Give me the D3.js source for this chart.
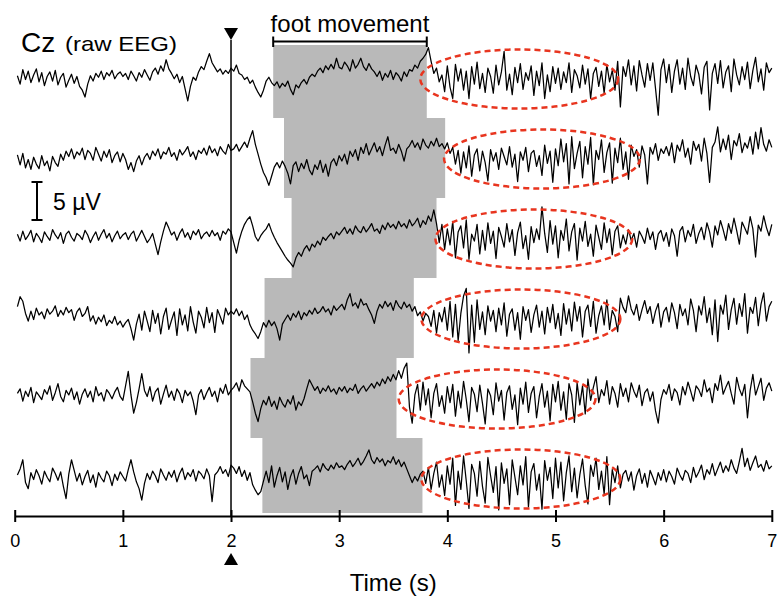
<!DOCTYPE html>
<html>
<head>
<meta charset="utf-8">
<script src="https://cdn.jsdelivr.net/npm/d3@7"></script>
<style>
  body { margin: 0; background: #fff; }
  svg { display: block; font-family: "Liberation Sans", Arial, Helvetica, sans-serif; }
</style>
</head>
<body>
<div id="vis"></div>
<script>
// raw EEG at Cz, six single trials (uV)
// one sample every 25 ms, first sample at 25 ms
var trace1 = [
  0.3,-0.8,1.1,-0.2,0.9,-0.6,0.4,1.2,-0.5,0.7, -1.0,0.2,0.8,-0.4,1.0,-0.9,0.1,0.6,-1.2,-0.3, 0.5,-0.7,0.2,-1.1,-1.6,-2.5,-0.8,0.3,-0.4,0.6, 0.1,0.9,-0.2,0.7,0.3,1.0,-0.1,0.5,0.8,0.2,
  0.6,-0.2,0.9,0.3,-0.4,0.7,0.1,1.1,0.4,-0.3, 0.8,1.3,0.5,1.6,0.9,2.4,1.2,0.6,-0.1,0.5, -0.6,0.2,-1.4,-3.0,-1.1,0.1,-0.3,0.8,1.5,1.1, 2.2,3.2,2.0,1.4,0.8,1.2,0.5,1.0,0.6,1.3,
  0.9,1.7,0.6,0.4,-0.2,0.1,-0.7,-0.3,-1.2,-1.9, -2.5,-1.6,-0.4,0.1,-0.6,-1.0,-0.5,-1.3,-0.7,-1.1, -0.4,-1.5,-2.2,-0.9,-1.3,-0.6,-0.2,-0.8,0.1,0.5, 0.2,0.9,1.3,0.7,1.6,1.1,1.8,1.2,2.6,1.4,
  1.2,2.1,1.6,0.9,2.4,1.3,1.8,2.6,1.5,1.0, 1.9,1.2,0.8,0.2,0.9,-0.3,0.6,0.1,1.0,-0.2, 0.7,0.3,-0.4,0.8,0.2,1.1,0.9,1.7,1.3,2.2, 2.6,3.1,4.0,2.2,0.6,1.3,-0.5,0.4,-1.8,1.6,
  -1.2,-2.7,1.8,-0.4,1.2,-1.6,0.9,-2.7,1.5,-0.8, 2.1,-1.4,0.6,-1.9,1.3,0.2,-2.0,1.7,-0.9,0.8, 3.5,-1.6,0.5,-2.2,1.4,-0.6,1.9,-1.5,0.7,-0.3, 1.6,-2.3,0.9,-1.0,2.0,-2.7,0.4,-1.8,1.5,-0.7,
  1.3,-1.5,0.8,-0.6,2.0,-1.9,1.1,0.3,-1.3,1.7, -0.8,1.2,-2.7,0.6,1.4,-1.1,0.9,-2.0,1.8,-0.5, 1.0,-1.6,2.2,-3.8,1.5,0.2,2.4,-0.9,1.6,-1.7, 2.3,0.4,-1.2,1.9,-0.3,2.0,-1.4,-4.9,1.1,2.5,
  -0.6,1.8,-1.9,0.9,2.4,-0.8,1.3,-1.5,2.6,0.2, -1.0,1.7,0.5,-2.1,1.4,2.2,-4.2,0.6,1.9,-0.7, 2.3,-1.3,0.8,1.6,-1.8,2.5,0.4,-0.9,1.5,-0.2, 2.1,-1.4,1.0,2.7,-0.5,1.2,-1.6,2.0,0.7,1.3
];
var trace2 = [
  0.4,-0.9,0.6,-1.3,-0.2,-1.5,0.1,-0.8,-1.4,0.3, -1.0,-0.4,-1.7,0.2,-0.6,-1.1,0.5,-0.3,0.9,0.2, 1.2,-0.1,0.8,0.4,1.3,-0.2,1.0,0.6,-0.3,1.4, 0.5,-0.4,0.9,0.1,1.1,-0.6,0.3,0.8,-0.5,0.6,
  -0.2,-1.5,-0.6,-1.8,-0.4,0.3,-0.9,0.1,0.6,-0.2, 0.9,0.3,1.2,-0.1,0.8,0.5,1.4,0.2,0.7,-0.3, 1.1,0.4,0.9,1.5,0.2,0.8,-0.2,1.0,0.6,1.3, 0.4,1.6,0.7,1.2,0.3,1.5,0.9,0.5,1.8,1.0,
  1.2,1.8,0.9,1.5,2.1,1.4,2.6,3.6,1.8,0.5, -0.8,-1.9,-2.6,-3.6,-2.4,-1.2,-0.6,-1.3,-0.4,-1.1, -2.0,-3.4,-1.0,-0.5,-1.8,-0.7,-1.4,-0.2,-1.6,-2.2, -0.9,-1.5,-0.3,-1.9,-0.8,-2.4,-0.6,-0.1,-1.0,0.3,
  -0.4,0.5,-0.8,0.9,0.2,1.1,-0.3,1.4,0.6,1.9, 0.4,1.2,2.0,0.8,1.5,0.3,1.7,2.8,1.0,1.3, 0.6,1.8,0.9,-0.4,1.2,1.6,2.3,1.4,2.0,1.1, 2.5,1.7,1.3,2.2,1.6,2.6,1.5,1.9,1.2,2.0,
  0.6,1.4,-0.8,1.0,-2.0,0.8,-1.3,1.6,-2.4,0.4, 1.2,-1.7,0.9,-0.6,-3.0,1.1,-0.4,0.7,-1.5,1.3, 0.2,-0.9,1.5,-1.2,0.5,-3.1,0.8,-0.3,1.4,-1.8, 0.6,1.0,-1.1,0.3,-2.3,1.7,-0.7,0.9,-3.2,1.2,
  -1.0,2.5,-0.5,1.9,-3.4,2.8,-1.4,0.6,2.2,-2.6, 1.5,-0.8,2.7,-3.5,1.0,-0.2,2.4,-1.9,0.7,2.0, -3.3,1.3,-0.6,2.6,-1.5,0.8,-2.8,1.7,0.2,1.1, -1.2,1.6,0.4,-3.4,1.4,0.5,1.9,-0.3,1.2,0.6,
  1.5,0.3,2.0,-0.6,1.7,0.9,2.4,0.1,1.3,-0.8, 2.2,1.0,1.8,-0.4,2.6,0.6,-3.2,1.4,2.1,4.1, 0.8,2.5,1.1,3.0,-0.2,2.3,1.6,3.2,0.7,2.0, 1.3,2.8,0.5,3.4,1.2,4.0,1.8,0.9,2.4,1.4
];
var trace3 = [
  0.5,-0.4,0.9,-0.2,0.3,1.0,-0.5,0.6,0.1,-0.6, 0.8,0.2,-0.3,1.1,0.4,-0.1,0.7,-0.7,0.5,0.9, 0.1,-0.4,0.6,0.3,-0.2,1.0,0.4,-0.6,0.2,0.8, -0.3,0.5,1.1,0.0,0.6,-0.5,0.3,0.9,-0.1,0.4,
  0.7,-0.2,0.5,0.9,-0.4,0.3,1.0,0.2,-0.6,-0.1, 0.6,-0.8,-2.2,-0.5,0.9,2.1,1.3,0.4,0.8,-0.3, 0.6,1.2,0.1,0.7,-0.2,0.9,0.4,1.1,-0.1,0.5, 0.8,0.2,1.0,0.3,0.7,-0.3,0.9,0.5,1.2,0.8,
  -0.6,-2.0,-0.3,0.9,1.8,2.4,2.8,1.6,0.2,-0.4, 0.3,0.8,1.2,1.9,0.9,0.1,-0.6,-1.2,-1.8,-2.4, -2.9,-3.3,-3.8,-2.6,-1.9,-2.4,-1.5,-1.0,-1.7,-0.8, -1.2,-0.4,-0.9,0.1,-0.3,0.2,0.6,-0.1,0.8,0.4,
  0.9,1.4,0.6,1.2,0.5,1.6,1.0,0.7,1.5,0.8, 1.3,1.9,0.9,1.2,0.6,1.7,1.1,2.0,1.4,1.8, 1.2,2.2,1.5,1.9,1.3,2.4,1.6,2.0,2.6,1.4, 2.3,1.8,2.9,2.2,3.7,1.9,-0.6,1.8,-1.5,1.2,
  -0.9,2.2,-2.6,0.8,1.6,-1.3,2.4,-2.8,0.5,-0.4, 1.8,-2.1,1.0,-1.6,2.0,-0.7,0.9,-2.7,1.4,0.2, -1.2,1.9,-0.5,1.1,-2.3,0.7,2.1,-1.4,0.3,-2.8, 1.5,-0.6,1.2,-0.2,4.1,0.6,-1.9,2.3,-0.8,1.6,
  -2.6,1.0,-0.3,2.5,-1.7,0.8,1.9,-2.9,1.3,-0.4, 2.2,-1.1,0.5,-2.4,1.7,0.1,-1.5,2.0,-0.6,1.2, -2.2,0.9,1.6,-1.3,0.4,-0.8,1.1,-0.3,0.6,-1.2, 0.9,0.2,-0.7,1.3,-0.2,0.8,-1.5,0.5,1.0,-0.4,
  0.7,-1.1,1.2,0.3,-2.4,0.9,1.5,-0.5,1.0,0.2, 1.8,-0.7,0.6,1.4,-0.2,2.0,0.8,-1.2,1.6,0.4, 2.3,1.1,-0.3,1.9,0.6,2.6,1.0,-0.8,2.1,1.3, 0.5,2.8,1.2,-2.5,1.7,0.9,2.9,1.4,0.3,1.8
];
var trace4 = [
  1.5,2.8,2.2,0.6,-0.4,0.9,-0.2,1.3,0.4,0.8, -0.1,1.2,0.5,0.9,1.6,0.2,1.0,0.4,1.4,0.7, 1.1,-0.3,0.8,1.3,0.2,0.6,1.5,-0.4,0.3,-0.8, 0.1,-0.5,0.4,-1.0,-0.3,-0.7,0.2,-0.9,-0.4,-1.2,
  -0.6,-0.2,-1.4,-2.9,-0.8,0.5,-1.6,0.9,-0.4,-1.8, 1.0,-0.7,0.6,-2.1,0.2,1.3,-1.5,-0.3,0.8,-2.3, 1.2,-0.9,0.4,-1.7,1.5,-0.5,-2.0,0.9,0.1,-1.3, 1.4,-0.6,0.7,-1.9,1.1,0.2,-0.8,1.3,0.4,0.9,
  0.5,1.2,0.3,0.9,-0.2,0.4,-0.9,-1.6,-2.1,-2.7, -1.8,-0.6,-1.2,-0.3,-1.0,-0.5,-1.4,-2.9,-0.8,-0.2, 0.4,-0.3,0.6,0.1,0.9,-0.2,0.7,0.3,1.0,0.5, 1.3,0.6,0.9,1.5,0.8,1.2,0.4,1.6,1.0,1.4,
  1.8,1.1,2.4,3.2,1.6,2.0,1.3,2.5,1.7,1.9, 1.1,0.4,-0.7,0.9,1.8,1.3,2.2,1.5,2.0,1.0, 2.3,1.6,1.2,2.1,1.4,1.8,0.9,1.5,0.3,0.8, -0.4,0.6,0.2,-1.1,1.0,-2.0,0.7,-0.5,1.4,-1.6,
  2.2,-2.5,1.8,-3.0,0.6,2.9,3.9,-4.6,1.7,-3.2, 2.4,-1.5,0.8,-2.2,1.6,-0.4,1.0,-1.8,1.3,-0.9, 2.0,-2.4,0.5,1.2,-1.6,0.7,-2.8,1.5,-0.3,1.1, -1.9,0.4,1.7,-1.2,0.9,-2.1,1.4,-0.6,1.8,-1.4,
  0.6,-2.3,1.9,-0.8,1.2,-1.7,2.1,-0.4,1.5,-2.5, 0.9,1.7,-1.1,2.2,-2.0,0.3,1.6,-0.9,2.4,-1.5, 1.0,0.2,-1.8,2.6,1.4,0.7,2.9,1.2,0.4,1.8, -0.3,1.1,2.3,0.6,1.5,-0.7,0.9,1.9,-1.2,0.8,
  1.4,-0.5,2.0,0.7,-1.4,1.8,0.3,1.2,-0.9,2.5, 1.0,-1.8,1.6,0.4,2.8,-0.6,1.3,-2.2,2.4,-3.1, 1.7,0.5,3.0,-1.5,1.1,2.6,-0.8,1.9,0.2,3.2, -2.0,1.4,0.6,2.7,-1.0,1.8,3.3,-0.4,1.5,2.2
];
var trace5 = [
  0.6,1.2,-0.4,0.9,0.2,1.4,-0.6,0.8,0.3,-0.2, 1.1,0.5,1.6,-0.3,0.7,1.9,0.2,-0.5,1.0,0.4, 1.3,-0.2,0.8,-0.8,0.5,1.2,0.1,0.9,-0.5,1.5, 0.3,0.7,-0.4,1.1,0.6,-0.1,0.8,1.4,0.2,-0.3,
  1.6,3.5,0.4,-2.0,-0.6,1.2,3.2,1.0,0.2,1.5, -0.4,0.8,1.3,-0.8,0.5,1.7,0.1,0.9,-0.3,1.2, 0.6,-0.6,1.0,0.3,0.8,-0.4,-2.2,0.4,1.1,-0.2, 0.7,1.4,0.2,0.9,-0.5,1.3,0.6,1.8,0.4,1.0,
  1.4,2.0,0.9,2.4,1.6,1.2,0.8,-0.5,-2.0,-3.1, -1.4,-0.3,-0.9,0.2,-1.1,-0.4,-1.5,0.1,-0.7,-1.2, -0.2,-0.8,0.3,-1.6,-0.5,-1.0,-0.1,1.2,2.4,1.7, 1.0,1.5,0.6,1.3,0.9,1.6,0.8,1.2,0.5,1.4,
  0.9,1.5,0.7,1.3,1.0,1.8,0.6,1.2,1.6,0.9, 1.4,1.9,1.3,2.1,1.6,2.5,1.9,2.8,2.2,3.1, 2.4,3.6,2.6,3.9,4.6,-1.2,-3.3,0.4,1.8,-1.6, 2.1,-0.9,1.2,-2.6,0.6,1.9,-1.1,0.3,-2.0,1.5,
  -0.6,1.8,-2.4,0.9,-1.3,2.2,-0.2,-3.1,1.4,0.5, -1.8,1.7,-0.7,-3.4,1.2,0.3,-2.2,2.0,-0.4,1.0, -2.9,0.7,1.6,-1.5,0.4,-3.5,1.3,-0.8,2.1,-1.9, 0.6,1.5,-2.6,0.2,1.9,-1.2,0.9,-3.0,1.8,-0.5,
  2.2,-1.6,0.8,-2.8,1.9,0.4,-3.2,2.0,-0.9,1.6, -2.1,2.5,-0.3,1.4,2.8,-0.6,1.1,0.3,2.3,-0.8, 1.5,0.6,-1.2,1.9,0.2,1.3,-0.5,2.0,0.9,0.1, 1.7,-1.0,0.7,1.2,-0.4,0.8,-1.7,-3.3,-0.2,1.1,
  0.5,1.8,-0.3,1.2,0.7,-0.9,1.5,0.4,2.1,0.9, -0.4,1.6,1.1,0.2,2.4,0.8,1.3,-0.6,1.9,1.0, 3.0,0.5,1.4,2.2,0.6,-0.8,2.7,1.2,0.3,1.8, -2.6,1.0,3.1,0.4,1.5,2.6,-0.3,1.3,2.0,0.9
];
var trace6 = [
  0.4,1.2,2.4,-0.6,-1.4,0.7,-0.2,1.1,0.3,-0.8, 0.9,0.1,-0.5,1.3,0.6,-0.3,0.8,-1.1,-2.7,0.5, 2.4,1.0,-0.4,0.6,-0.9,0.2,1.0,-0.6,0.4,-1.2, 0.7,0.0,-0.5,0.9,0.3,-1.0,0.5,-0.3,0.8,0.2,
  -0.4,1.1,2.4,0.8,-0.5,-1.4,-2.9,-0.7,0.6,-0.2, 0.9,0.3,-0.6,1.2,0.4,-0.3,0.8,0.1,1.0,-0.5, 0.6,1.3,-0.2,0.7,0.2,1.1,-0.4,0.9,0.5,-0.1, 1.2,0.3,-3.1,0.4,0.8,1.5,0.6,1.1,0.2,1.7,
  1.3,0.6,1.5,0.2,1.0,-0.3,0.7,-0.9,-1.6,-2.2, -1.8,-0.4,0.9,-0.6,1.6,-1.2,0.3,1.4,-0.5,0.8, -1.5,0.2,1.1,-0.8,0.6,1.5,-0.1,0.4,-1.0,0.9, 1.2,1.6,0.8,1.9,1.3,1.0,1.7,1.2,2.0,1.4,
  1.6,1.1,1.8,2.3,1.5,2.0,2.6,1.7,2.2,2.9, 3.7,2.4,1.9,2.7,2.1,2.5,1.6,2.3,2.0,2.8, 1.8,2.4,1.5,2.1,1.2,0.3,-0.6,0.2,-0.4,0.5, 0.9,-0.7,1.4,-1.5,0.6,2.1,-1.2,0.4,-2.3,1.6,
  -0.8,2.6,-3.6,0.9,-1.5,2.9,-0.4,-4.0,1.8,0.6, -2.4,2.2,-1.1,-3.3,2.7,0.3,-1.9,1.5,-4.2,2.0, -0.7,1.2,-3.5,2.4,0.1,-2.2,1.6,-0.9,2.8,-3.8, 0.8,1.9,-1.6,0.5,-4.1,2.3,-0.3,1.4,-2.7,2.6,
  -1.3,2.1,-3.0,0.7,2.9,-1.8,1.3,-2.6,0.4,2.5, -1.0,-3.4,1.7,0.2,2.6,-1.5,0.9,-2.1,2.8,-3.5, 1.1,-0.6,1.6,-1.3,0.5,1.0,-0.4,0.8,-1.6,0.3, 1.2,-0.7,0.6,-1.2,1.0,0.1,-0.9,0.7,-0.3,1.1,
  -0.5,0.9,0.2,-0.8,1.3,0.4,-0.3,1.0,0.6,-0.6, 1.4,0.1,0.8,1.7,-0.2,1.1,0.5,1.9,0.3,1.2, 2.1,0.7,1.6,0.9,2.4,1.3,0.6,2.2,3.9,1.5, 2.6,1.0,2.0,2.9,1.4,1.8,0.9,2.3,1.2,1.6
];
var trials = [trace1, trace2, trace3, trace4, trace5, trace6];
var trialIds = [1, 2, 3, 4, 5, 6];

// foot movement onset / offset per trial (s)
var moveOnset = [2.39, 2.49, 2.56, 2.31, 2.18, 2.29];
var moveOffset = [3.81, 3.98, 3.90, 3.69, 3.53, 3.77];

// post-movement window circled on each trial (s)
var reboundStart = [3.75, 3.97, 3.89, 3.76, 3.55, 3.76];
var reboundEnd = [5.58, 5.78, 5.71, 5.60, 5.37, 5.60];

var cueTime = 2;
var timeTicks = [0, 1, 2, 3, 4, 5, 6, 7];
var sampleStep = 0.025;
var scaleBarUv = 5;

// size of the picture
var width = 777;
var height = 597;
var axisY = 516;

var svg = d3.select('#vis').append('svg')
  .attr('width', width)
  .attr('height', height);

var x = d3.scaleLinear().domain([0, 7]).range([14.7, 771.8]);
// one row for each trial
var row = d3.scalePoint().domain(trialIds).range([78, 478]);
// 5 uV = 38 px
var uv = d3.scaleLinear().domain([0, scaleBarUv]).range([0, -38]);

// grey band: movement period of every trial
svg.append('g').selectAll('rect')
  .data(trialIds)
  .enter()
  .append('rect')
  .attr('x', function (d, i) { return x(moveOnset[i]); })
  .attr('width', function (d, i) { return x(moveOffset[i]) - x(moveOnset[i]); })
  .attr('y', function (d, i) { return i === 0 ? 45 : row(d) - 40; })
  .attr('height', function (d, i) {
    var top = i === 0 ? 45 : row(d) - 40;
    var bottom = i === trialIds.length - 1 ? axisY - 3 : row(d) + 40;
    return bottom - top;
  })
  .attr('fill', '#b9b9b9');

// traces
var line = d3.line()
  .x(function (d, i) { return x(sampleStep * (i + 1)); })
  .y(function (d) { return uv(d); });

svg.append('g').selectAll('path')
  .data(trials)
  .enter()
  .append('path')
  .attr('transform', function (d, i) { return 'translate(0,' + row(trialIds[i]) + ')'; })
  .attr('d', line)
  .attr('fill', 'none')
  .attr('stroke', '#000')
  .attr('stroke-width', 1.25)
  .attr('stroke-linejoin', 'round');

// cue line and markers
svg.append('line')
  .attr('x1', x(cueTime)).attr('x2', x(cueTime))
  .attr('y1', 40).attr('y2', axisY)
  .attr('stroke', '#000')
  .attr('stroke-width', 1.5);

var tri = d3.symbol().type(d3.symbolTriangle).size(85);
svg.append('path')
  .attr('d', tri)
  .attr('transform', 'translate(' + x(cueTime) + ',32) rotate(180)');
svg.append('path')
  .attr('d', tri)
  .attr('transform', 'translate(' + x(cueTime) + ',561)');

// red dashed ellipses
svg.append('g').selectAll('ellipse')
  .data(trialIds)
  .enter()
  .append('ellipse')
  .attr('cx', function (d, i) { return (x(reboundStart[i]) + x(reboundEnd[i])) / 2; })
  .attr('rx', function (d, i) { return (x(reboundEnd[i]) - x(reboundStart[i])) / 2; })
  .attr('cy', function (d) { return row(d) + 1; })
  .attr('ry', 29.5)
  .attr('fill', 'none')
  .attr('stroke', '#e8351f')
  .attr('stroke-width', 2.5)
  .attr('stroke-dasharray', '6,4');

// foot movement bracket (first trial)
var bracket = svg.append('g')
  .attr('stroke', '#000')
  .attr('stroke-width', 2);
bracket.append('line')
  .attr('x1', x(moveOnset[0])).attr('x2', x(moveOffset[0]))
  .attr('y1', 41.5).attr('y2', 41.5);
bracket.append('line')
  .attr('x1', x(moveOnset[0])).attr('x2', x(moveOnset[0]))
  .attr('y1', 36.5).attr('y2', 47);
bracket.append('line')
  .attr('x1', x(moveOffset[0])).attr('x2', x(moveOffset[0]))
  .attr('y1', 36.5).attr('y2', 47);

svg.append('text')
  .attr('x', (x(moveOnset[0]) + x(moveOffset[0])) / 2)
  .attr('y', 31.5)
  .attr('text-anchor', 'middle')
  .style('font-size', '24px')
  .text('foot movement');

// channel label
svg.append('text')
  .attr('x', 21)
  .attr('y', 52)
  .style('font-size', '28px')
  .text('Cz');
svg.append('text')
  .attr('x', 65)
  .attr('y', 51)
  .attr('textLength', 112)
  .attr('lengthAdjust', 'spacingAndGlyphs')
  .style('font-size', '21px')
  .text('(raw EEG)');

// scale bar
var bar = svg.append('g')
  .attr('transform', 'translate(37,220)')
  .attr('stroke', '#000')
  .attr('stroke-width', 2);
bar.append('line').attr('x1', 0).attr('x2', 0).attr('y1', 0).attr('y2', uv(scaleBarUv));
bar.append('line').attr('x1', -5.5).attr('x2', 5.5).attr('y1', 0).attr('y2', 0);
bar.append('line').attr('x1', -5.5).attr('x2', 5.5).attr('y1', uv(scaleBarUv)).attr('y2', uv(scaleBarUv));

svg.append('text')
  .attr('x', 53)
  .attr('y', 209.5)
  .style('font-size', '23px')
  .text(scaleBarUv + ' \u00b5V');

// time axis
var axis = d3.axisBottom(x)
  .tickValues(timeTicks)
  .tickFormat(d3.format('d'))
  .tickSize(6)
  .tickSizeOuter(0);

var gAxis = svg.append('g')
  .attr('transform', 'translate(0,' + axisY + ')')
  .call(axis);

gAxis.select('.domain').attr('stroke-width', 2);
gAxis.selectAll('.tick line')
  .attr('y1', -6)
  .attr('y2', 6)
  .attr('stroke-width', 2);
gAxis.selectAll('.tick text')
  .attr('y', 31)
  .attr('dy', 0)
  .attr('fill', '#000')
  .style('font-family', '"Liberation Sans", Arial, Helvetica, sans-serif')
  .style('font-size', '18px');

svg.append('text')
  .attr('x', x(3.5))
  .attr('y', 591)
  .attr('text-anchor', 'middle')
  .style('font-size', '24px')
  .text('Time (s)');
</script>
</body>
</html>
